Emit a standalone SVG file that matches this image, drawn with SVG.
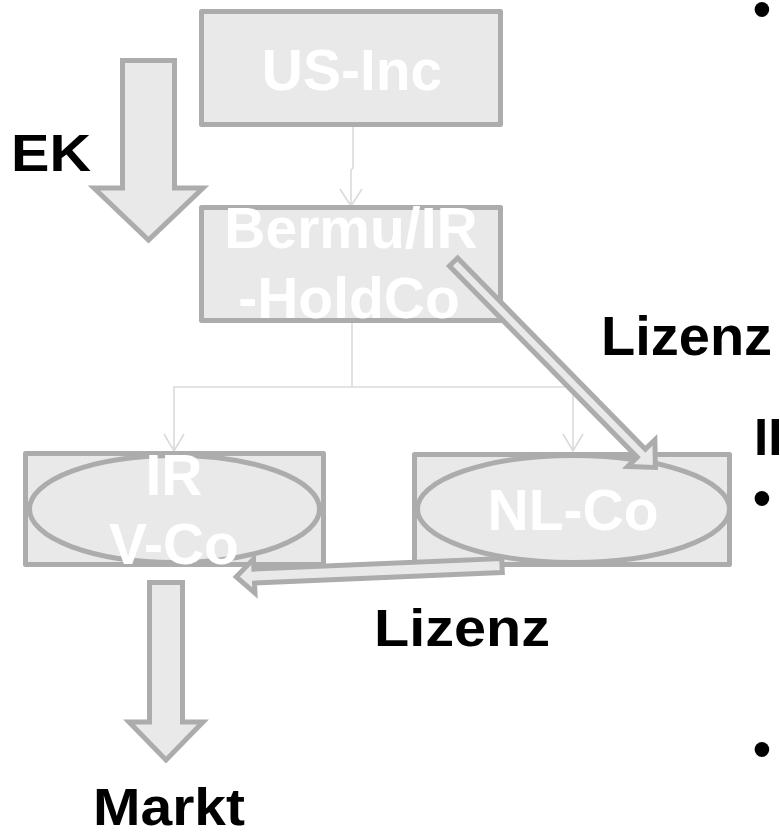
<svg xmlns="http://www.w3.org/2000/svg" width="780" height="832" viewBox="0 0 780 832">
  <style>
    .box { fill: #e9e9e9; stroke: #acacac; stroke-width: 5; stroke-linejoin: round; }
    .shape { fill: #e9e9e9; stroke: #acacac; stroke-width: 5; stroke-linejoin: miter; stroke-miterlimit: 10; }
    .link { fill: none; stroke: #dadada; stroke-width: 1.6; }
    .head { fill: none; stroke: #dadada; stroke-width: 1.6; stroke-linejoin: miter; }
    .lbl { font-family: "Liberation Sans", Arial, sans-serif; font-weight: bold; fill: #ffffff; font-size: 57px; text-anchor: middle; }
    .cap { font-family: "Liberation Sans", Arial, sans-serif; font-weight: bold; fill: #000000; }
  </style>

  <!-- ownership lines -->
  <g id="connectors">
    <polyline class="link" points="353,127 353,168 351,170 351,205"/>
    <polyline class="head" points="340,189 351,206 362,189"/>
    <polyline class="link" points="352,323 352,387"/>
    <polyline class="link" points="174,451 174,387 573,387 573,451"/>
    <polyline class="head" points="164,434 174,451 184,434"/>
    <polyline class="head" points="563,434 573,451 583,434"/>
  </g>

  <!-- equity flow arrow -->
  <g id="ek-arrow">
    <path class="shape" d="M122.5,60.5 L174.5,60.5 L174.5,188 L203,188 L148.5,240 L94,188 L122.5,188 Z"/>
  </g>

  <g id="us-inc">
    <rect class="box" x="201.5" y="11.5" width="299" height="113"/>
    <text class="lbl" x="352" y="90">US-Inc</text>
  </g>

  <g id="holdco">
    <rect class="box" x="201.5" y="207.5" width="299" height="113"/>
    <text class="lbl" x="351" y="248">Bermu/IR</text>
    <text class="lbl" x="349" y="318">-HoldCo</text>
  </g>

  <g id="ir-vco">
    <rect class="box" x="25.5" y="453.5" width="298" height="111"/>
    <ellipse class="box" cx="174.5" cy="509" rx="145" ry="53.5"/>
    <text class="lbl" x="174" y="495">IR</text>
    <text class="lbl" x="174" y="564">V-Co</text>
  </g>

  <g id="nl-co">
    <rect class="box" x="414.5" y="454.5" width="315" height="110"/>
    <ellipse class="box" cx="573.5" cy="509" rx="156" ry="53.5"/>
    <text class="lbl" x="573" y="530">NL-Co</text>
  </g>

  <!-- licence flows -->
  <g id="licence-arrows">
    <path class="shape" transform="translate(453.5,262) rotate(45.5)" d="M0,-5.7 L268,-5.7 L268,-19 L288,0 L268,19 L268,5.7 L0,5.7 Z"/>
    <path class="shape" transform="translate(502,565.5) rotate(177.55)" d="M0,-7 L248,-7 L248,-17 L266,0 L248,17 L248,7 L0,7 Z"/>
  </g>

  <!-- sales arrow -->
  <g id="markt-arrow">
    <path class="shape" d="M149.5,582.5 L182.5,582.5 L182.5,722 L203,722 L166,760 L129,722 L149.5,722 Z"/>
  </g>

  <!-- captions -->
  <g id="captions">
    <text class="cap" x="11" y="171" font-size="51" textLength="80" lengthAdjust="spacingAndGlyphs">EK</text>
    <text class="cap" x="601" y="355" font-size="56">Lizenz</text>
    <text class="cap" x="374" y="646" font-size="51" textLength="176" lengthAdjust="spacingAndGlyphs">Lizenz</text>
    <text class="cap" x="93" y="825" font-size="51" textLength="152" lengthAdjust="spacingAndGlyphs">Markt</text>
  </g>

  <!-- side text cut off at the right edge -->
  <g id="side-text">
    <text class="cap" x="753" y="27" font-size="51">•</text>
    <text class="cap" x="754" y="455" font-size="51">II</text>
    <text class="cap" x="753" y="516" font-size="51">•</text>
    <text class="cap" x="753" y="767" font-size="51">•</text>
  </g>
</svg>
